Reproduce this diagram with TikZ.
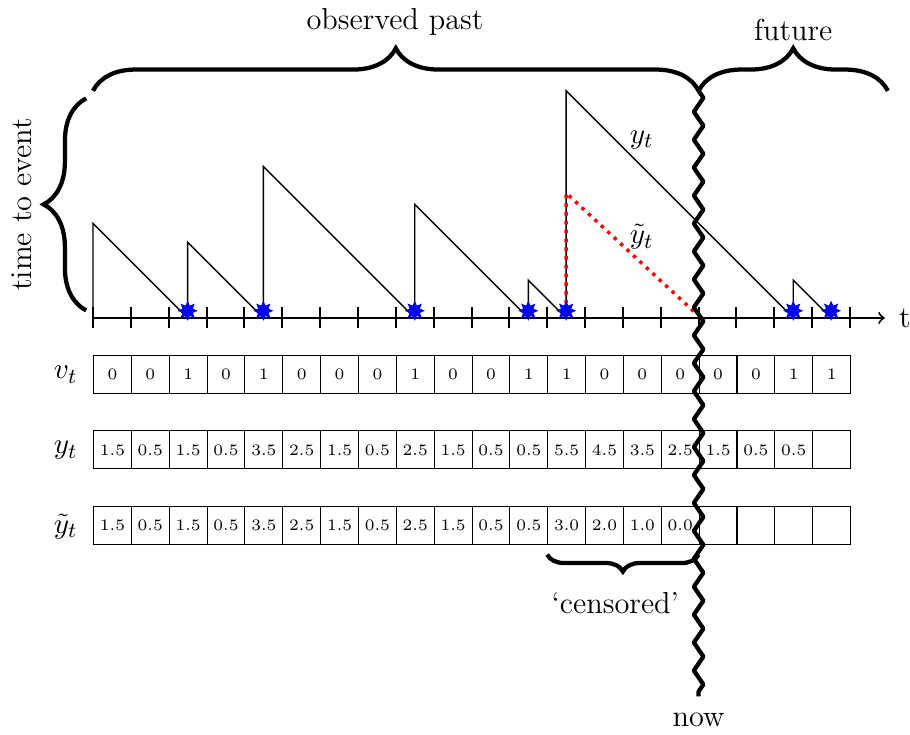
\documentclass[tikz,border=0pt]{standalone}
\usetikzlibrary{decorations.pathreplacing,decorations.pathmorphing,shapes.geometric}
\begin{document}
\begin{tikzpicture}[x=0.5cm,y=0.5cm,
  every node/.style={font=\fontsize{11.4}{13.5}\selectfont},
  cellbox/.style={draw, line width=0.4pt, minimum width=0.5cm, minimum height=0.5cm,
    inner sep=0pt, anchor=south west, font=\fontsize{6}{7}\selectfont},
  bigbrace/.style={decorate, decoration={brace, amplitude=16pt}, line width=1.6pt},
  smallbrace/.style={decorate, decoration={brace, amplitude=6.4pt}, line width=1.6pt},
  axisline/.style={line width=0.75pt, ->},
  tickmark/.style={line width=0.75pt},
  saw/.style={line width=0.55pt},
  cens/.style={red, dotted, line width=1.3pt},
  wave/.style={decorate, decoration={zigzag, segment length=10.5pt, amplitude=1.8pt},
    line width=1.6pt, line join=round},
  evstar/.style={star, star points=8, star point ratio=1.8, fill=blue, draw=blue,
    inner sep=0pt, minimum size=0.23cm},
]
\useasboundingbox (-2.457,-11.017) rectangle (21.585,8.40);

% time axis
\coordinate (o) at (0,0);
\coordinate (tend) at (20.92,0);
\draw[axisline] (o) -- (tend);
\node (tlab) at (21.45,0) {t};
\foreach \i in {0,...,20} \draw[tickmark] (\i,-0.27) -- (\i,0.28);

% sawtooth y_t
\draw[saw] (0,0) -- (0,2.5) -- (2.5,0) -- (2.5,2) -- (4.5,0) -- (4.5,4) -- (8.5,0)
  -- (8.5,3) -- (11.5,0) -- (11.5,1) -- (12.5,0) -- (12.5,6) -- (18.5,0)
  -- (18.5,1) -- (19.5,0);

% censored tilde y_t
\draw[cens] (12.5,0.15) -- (12.5,3.3) -- (15.95,0.1);

% events
\foreach \x [count=\k] in {2.5,4.5,8.5,11.5,12.5,18.5,19.5}
  \node[evstar] (s\k) at (\x,0.19) {};

\node (ylab) at (14.5,4.7) {$y_t$};
\node (ytlab) at (14.5,2.14) {$\tilde{y}_t$};

% tables
\foreach \v [count=\i from 0] in {0,0,1,0,1,0,0,0,1,0,0,1,1,0,0,0,0,0,1,1}
  \node[cellbox] (v\i) at (\i,-2) {\v};
\foreach \v [count=\i from 0] in {1.5,0.5,1.5,0.5,3.5,2.5,1.5,0.5,2.5,1.5,0.5,0.5,5.5,4.5,3.5,2.5,1.5,0.5,0.5,{}}
  \node[cellbox] (y\i) at (\i,-4) {\v};
\foreach \v [count=\i from 0] in {1.5,0.5,1.5,0.5,3.5,2.5,1.5,0.5,2.5,1.5,0.5,0.5,3.0,2.0,1.0,0.0,{},{},{},{}}
  \node[cellbox] (z\i) at (\i,-6) {\v};

\node (vrow) at (-0.72,-1.5) {$v_t$};
\node (yrow) at (-0.72,-3.5) {$y_t$};
\node (zrow) at (-0.72,-5.5) {$\tilde{y}_t$};

% braces
\draw[bigbrace] (0,6) -- (16,6);
\draw[bigbrace] (16,6) -- (21,6);
\draw[bigbrace] (-0.18,0.2) -- (-0.18,5.8);
\draw[smallbrace] (16,-6.25) -- (12,-6.25);

\node (past) at (7.98,7.82) {observed past};
\node (fut) at (18.5,7.61) {future};
\node[rotate=90] (tte) at (-1.88,3.0) {time to event};
\node (censlab) at (13.8,-7.53) {`censored'};

% now line
\coordinate (nowtop) at (16,6);
\coordinate (nowbot) at (16,-10);
\draw[wave] (nowtop) -- (nowbot);
\node (now) at (16,-10.62) {now};
\end{tikzpicture}
\end{document}
